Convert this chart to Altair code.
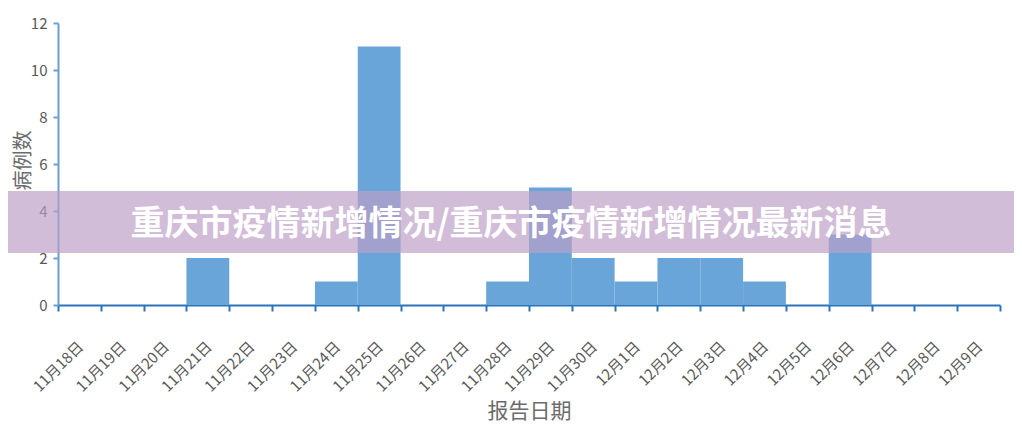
import altair as alt
import pandas as pd

dates = ["11月18日", "11月19日", "11月20日", "11月21日", "11月22日", "11月23日",
         "11月24日", "11月25日", "11月26日", "11月27日", "11月28日", "11月29日",
         "11月30日", "12月1日", "12月2日", "12月3日", "12月4日", "12月5日",
         "12月6日", "12月7日", "12月8日", "12月9日"]
cases = [0, 0, 0, 2, 0, 0, 1, 11, 0, 0, 1, 5, 2, 1, 2, 2, 1, 0, 3, 0, 0, 0]
banner_text = ["重庆市疫情新增情况/重庆市疫情新增情况最新消息"]

df = pd.DataFrame({"date": dates, "cases": cases})
FONT = "Noto Sans CJK SC"

bars = alt.Chart(df).mark_bar(color="#6aa5d9").encode(
    x=alt.X("date:N", sort=dates, title="报告日期",
            scale=alt.Scale(paddingInner=0, paddingOuter=0),
            axis=alt.Axis(labelAngle=-45, labelAlign="right", labelBaseline="top",
                          labelFontSize=15, labelColor="#595959", labelFont=FONT,
                          labelPadding=28, labelOffset=-4,
                          domainColor="#2a74bb", domainWidth=2,
                          tickColor="#2a74bb", tickWidth=2, tickSize=6,
                          tickBand="extent",
                          titleFont=FONT, titleFontSize=21, titleFontWeight="normal",
                          titleColor="#6b6b6b", titlePadding=6)),
    y=alt.Y("cases:Q", title="病例数",
            scale=alt.Scale(domain=[0, 12], nice=False),
            axis=alt.Axis(values=[0, 2, 4, 6, 8, 10, 12], grid=False,
                          labelFontSize=15, labelColor="#595959", labelFont=FONT,
                          labelPadding=6,
                          domainColor="#6a9fd0", domainWidth=2,
                          tickColor="#6a9fd0", tickWidth=2, tickSize=5,
                          titleFont=FONT, titleFontSize=20, titleFontWeight="normal",
                          titleColor="#6b6b6b", titleX=-35, titleY=137,
                          titleAngle=-90, titleAlign="center",
                          titleBaseline="middle")),
)

banner = alt.Chart(pd.DataFrame({"t": banner_text})).mark_rect(
    color="#bc9ec5", opacity=0.68
).encode(
    x=alt.value(-58), x2=alt.value(964), y=alt.value(168), y2=alt.value(230)
)

text = alt.Chart(pd.DataFrame({"t": banner_text})).mark_text(
    color="white", font=FONT, fontSize=34, fontWeight="bold",
    align="center", baseline="middle"
).encode(
    text="t:N", x=alt.value(453), y=alt.value(202)
)

chart = alt.layer(bars, banner, text).properties(
    width=942, height=282,
    autosize=alt.AutoSizeParams(type="none"),
    padding={"left": 50, "top": 15, "right": 14, "bottom": 140},
    background="white",
).configure_view(stroke=None)

chart.save("out.html", embed_options={"renderer": "svg", "actions": False})
